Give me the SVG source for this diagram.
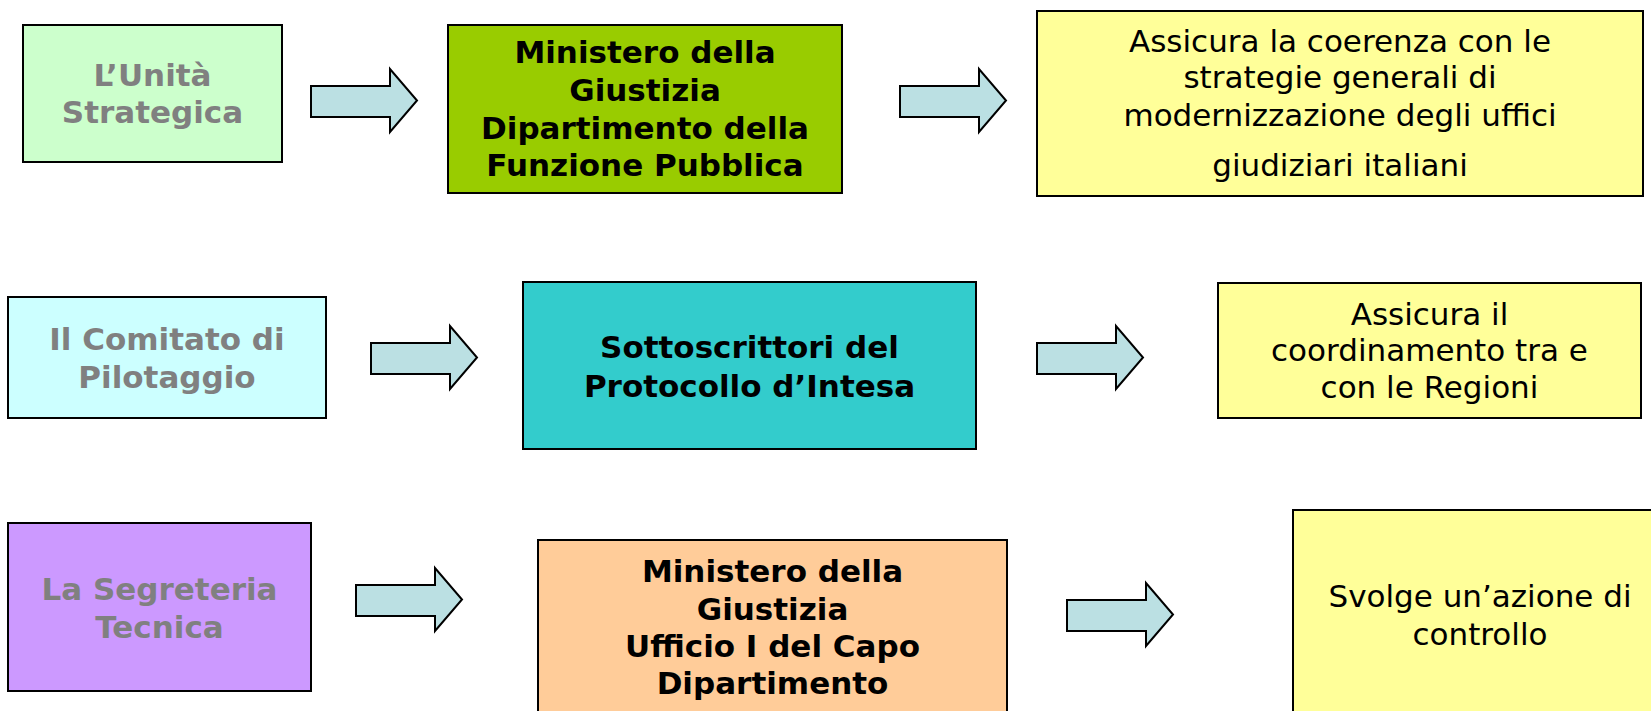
<svg xmlns="http://www.w3.org/2000/svg" width="1651" height="711" viewBox="0 0 1651 711">
<style>
.box{stroke:#000;stroke-width:2}
.t{font-family:"DejaVu Sans",Verdana,sans-serif;font-size:31px;text-anchor:middle}
.b{font-weight:bold;fill:#000}
.g{font-weight:bold;fill:#808080}
.r{fill:#000}
.arrow{fill:#BBE0E3;stroke:#000;stroke-width:2;stroke-linejoin:miter}
</style>
<defs>
<path id="arr" d="M0,17 L79,17 L79,0 L106,31.5 L79,63 L79,48 L0,48 Z"/>
</defs>
<rect width="1651" height="711" fill="#fff"/>
<g id="connectors">
<use href="#arr" class="arrow" x="311" y="69"/>
<use href="#arr" class="arrow" x="900" y="69"/>
<use href="#arr" class="arrow" x="371" y="326"/>
<use href="#arr" class="arrow" x="1037" y="326"/>
<use href="#arr" class="arrow" x="356" y="568"/>
<use href="#arr" class="arrow" x="1067" y="583"/>
</g>
<g id="unita-strategica">
<rect class="box" x="23" y="25" width="259" height="137" fill="#CCFFCC"/>
<text class="t g" x="152.5" y="86">L’Unità</text>
<text class="t g" x="152.5" y="123">Strategica</text>
</g>
<g id="ministero-funzione-pubblica">
<rect class="box" x="448" y="25" width="394" height="168" fill="#99CC00"/>
<text class="t b" x="645" y="63">Ministero della</text>
<text class="t b" x="645" y="101">Giustizia</text>
<text class="t b" x="645" y="139">Dipartimento della</text>
<text class="t b" x="645" y="176">Funzione Pubblica</text>
</g>
<g id="coerenza">
<rect class="box" x="1037" y="11" width="606" height="185" fill="#FFFF99"/>
<text class="t r" x="1340" y="52">Assicura la coerenza con le</text>
<text class="t r" x="1340" y="88">strategie generali di</text>
<text class="t r" x="1340" y="126">modernizzazione degli uffici</text>
<text class="t r" x="1340" y="176">giudiziari italiani</text>
</g>
<g id="comitato-pilotaggio">
<rect class="box" x="8" y="297" width="318" height="121" fill="#CCFFFF"/>
<text class="t g" x="167" y="350">Il Comitato di</text>
<text class="t g" x="167" y="388">Pilotaggio</text>
</g>
<g id="sottoscrittori">
<rect class="box" x="523" y="282" width="453" height="167" fill="#33CCCC"/>
<text class="t b" x="749.5" y="358">Sottoscrittori del</text>
<text class="t b" x="749.5" y="397">Protocollo d’Intesa</text>
</g>
<g id="coordinamento">
<rect class="box" x="1218" y="283" width="423" height="135" fill="#FFFF99"/>
<text class="t r" x="1429.5" y="325">Assicura il</text>
<text class="t r" x="1429.5" y="361">coordinamento tra e</text>
<text class="t r" x="1429.5" y="398">con le Regioni</text>
</g>
<g id="segreteria-tecnica">
<rect class="box" x="8" y="523" width="303" height="168" fill="#CC99FF"/>
<text class="t g" x="159.5" y="600">La Segreteria</text>
<text class="t g" x="159.5" y="638">Tecnica</text>
</g>
<g id="ministero-ufficio">
<rect class="box" x="538" y="540" width="469" height="200" fill="#FFCC99"/>
<text class="t b" x="772.5" y="582">Ministero della</text>
<text class="t b" x="772.5" y="620">Giustizia</text>
<text class="t b" x="772.5" y="657">Ufficio I del Capo</text>
<text class="t b" x="772.5" y="694">Dipartimento</text>
</g>
<g id="controllo">
<rect class="box" x="1293" y="510" width="380" height="230" fill="#FFFF99"/>
<text class="t r" x="1480" y="607">Svolge un’azione di</text>
<text class="t r" x="1480" y="645">controllo</text>
</g>
</svg>
